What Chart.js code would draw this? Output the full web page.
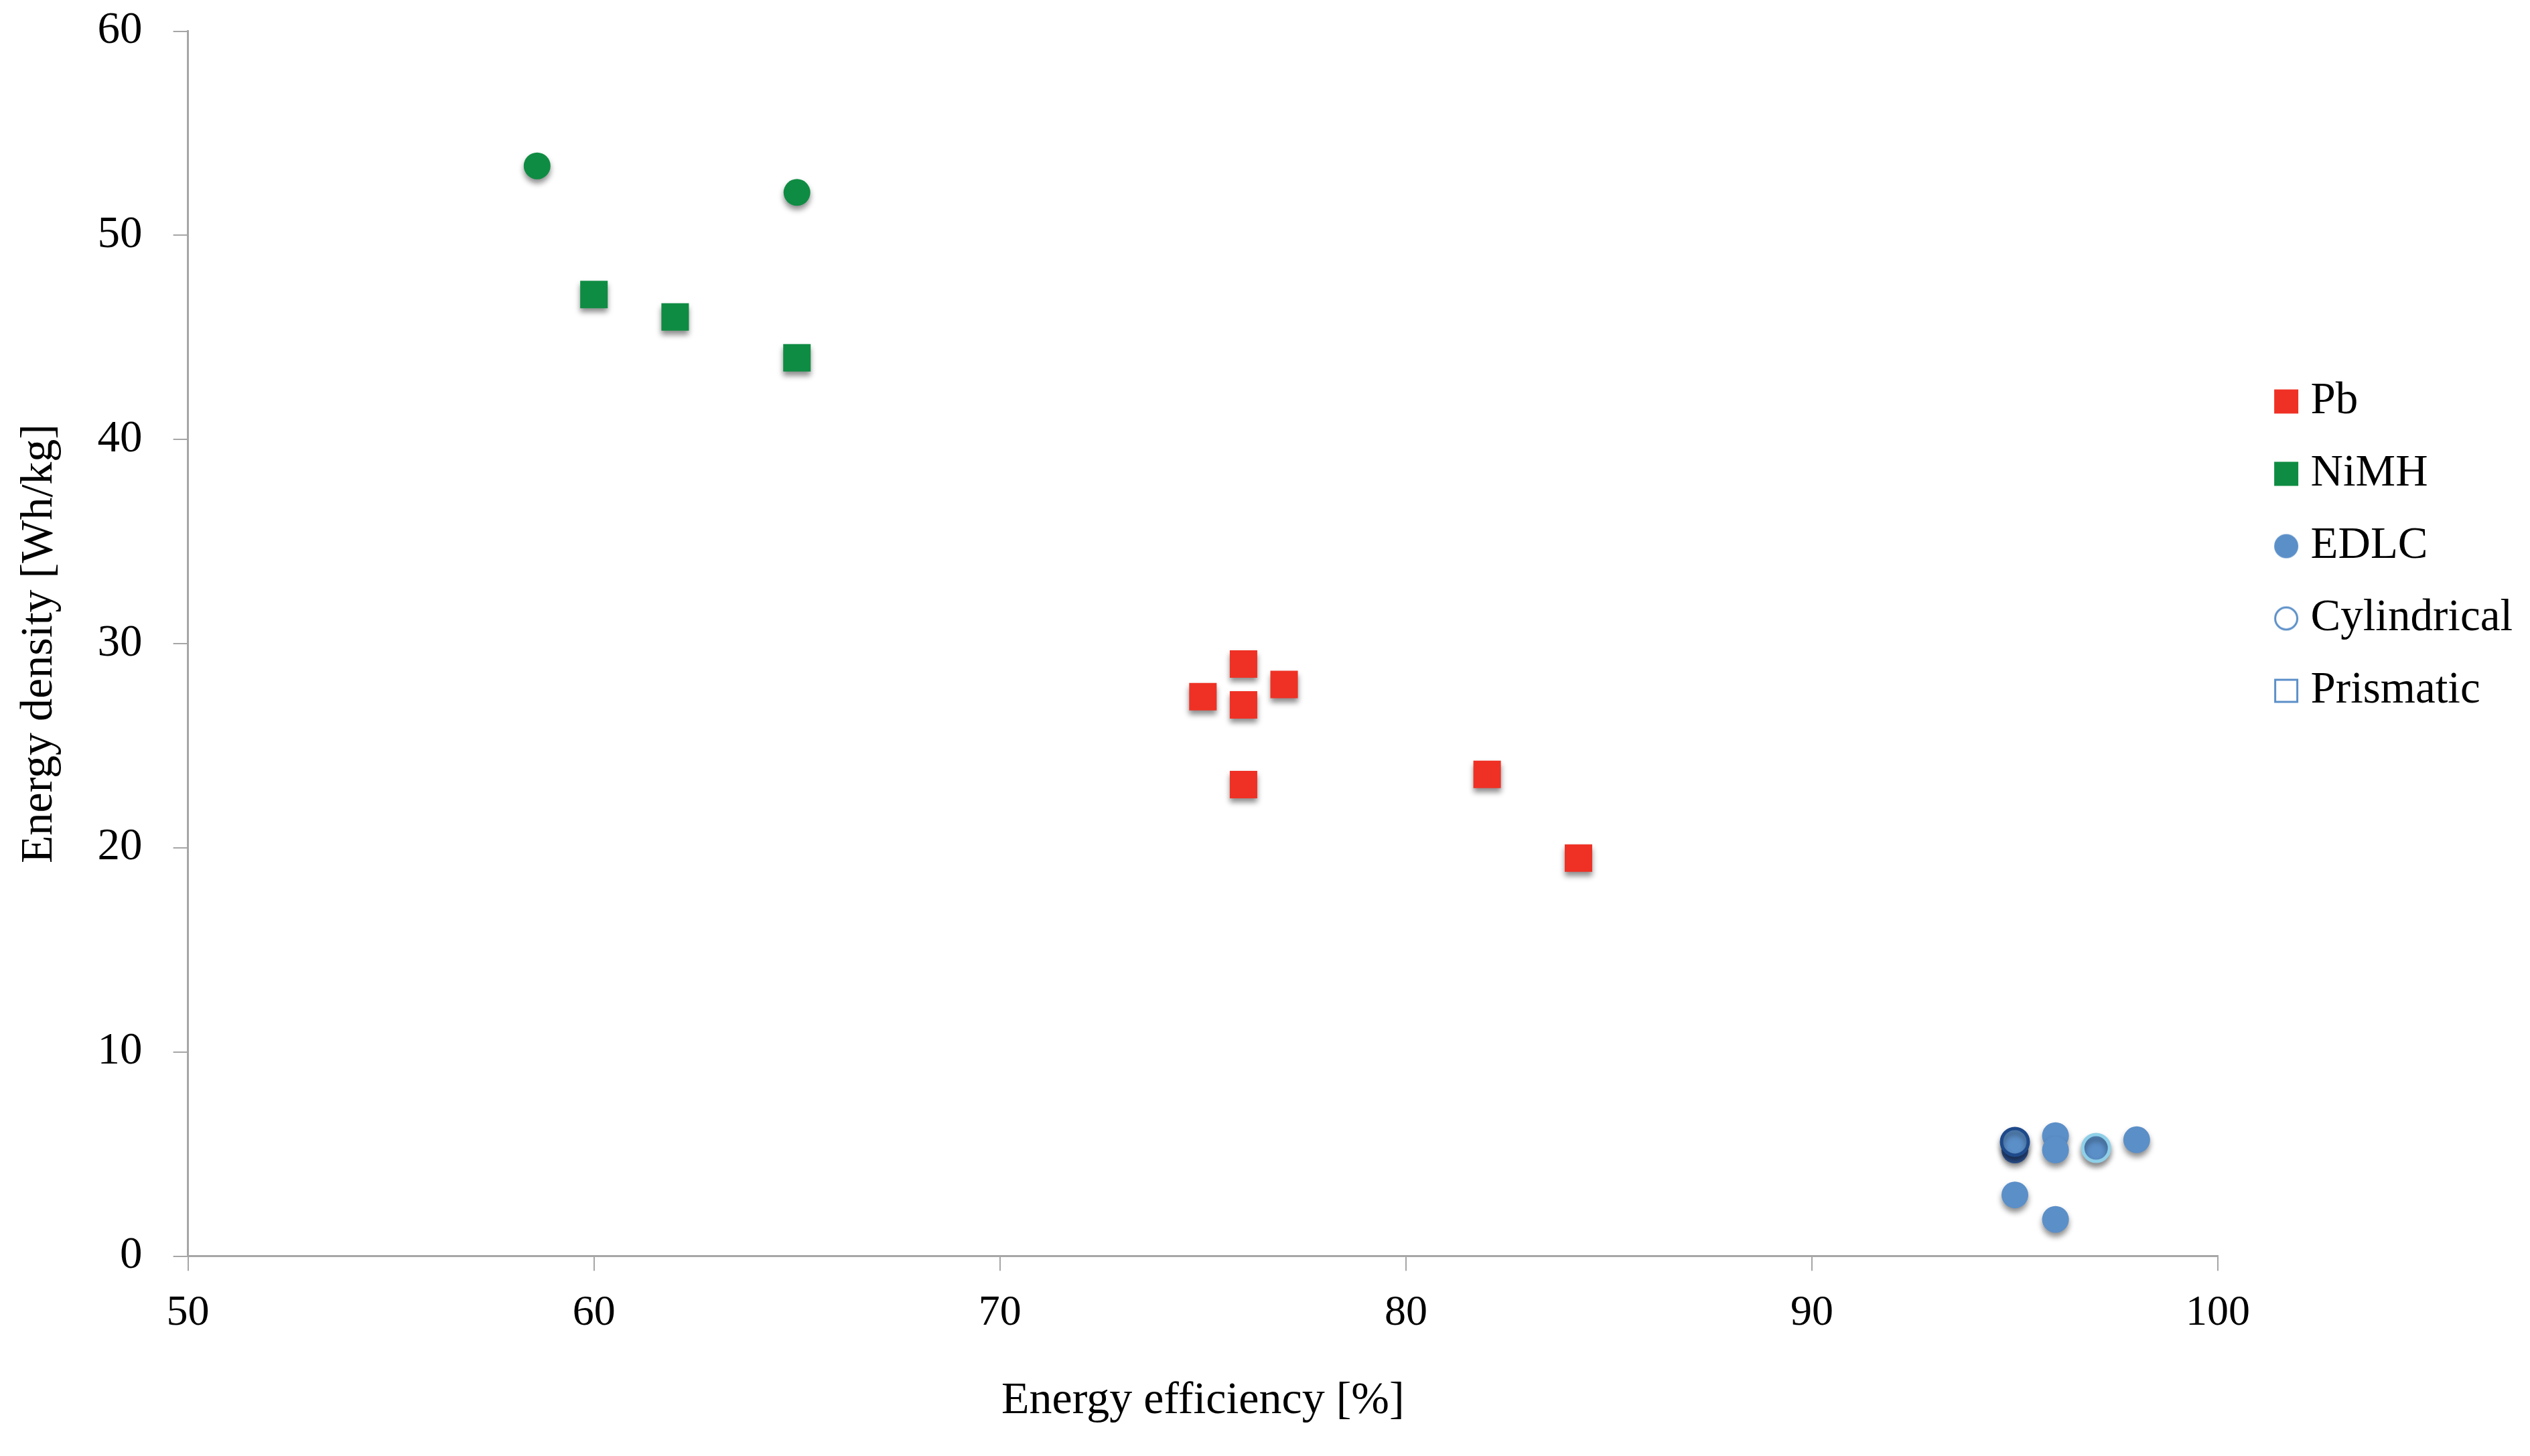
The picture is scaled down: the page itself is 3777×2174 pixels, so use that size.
<!DOCTYPE html>
<html>
<head>
<meta charset="utf-8">
<script src="https://cdn.jsdelivr.net/npm/chart.js@4.4.1/dist/chart.umd.min.js"></script>
<style>
  html, body { margin: 0; padding: 0; background: #fff; }
  #wrap { width: 3777px; height: 2174px; }
</style>
</head>
<body>
<div id="wrap"><canvas id="scatterChart"></canvas></div>
<script>
// energy efficiency [%] / energy density [Wh/kg]
const pbEff = [75, 76, 76, 77, 76, 82, 84.25];
const pbDens = [27.4, 29, 27, 28, 23.1, 23.6, 19.5];

const nimhEff = [60, 62, 65];
const nimhDens = [47.1, 46, 44];

const nimhCylEff = [58.6, 65];
const nimhCylDens = [53.4, 52.1];

const edlcEff = [95, 95, 96, 96, 97, 98, 95, 96];
const edlcDens = [5.2, 5.6, 5.9, 5.2, 5.3, 5.7, 3.0, 1.8];

const xTicks = [50, 60, 70, 80, 90, 100];
const yTicks = [0, 10, 20, 30, 40, 50, 60];

const legendNames = ["Pb", "NiMH", "EDLC", "Cylindrical", "Prismatic"];

const RED = "#EE3124";
const GREEN = "#0F8C43";
const BLUE = "#5B8FC8";
const AXIS = "#A6A6A6";
const FONT = "'Liberation Serif', 'Times New Roman', serif";

const pts = (xs, ys) => xs.map((x, i) => ({ x: x, y: ys[i] }));

// small canvases for the legend markers (marker sits right of centre)
function marker(shape, fill, stroke) {
  const c = document.createElement("canvas");
  c.width = 98;
  c.height = 40;
  const g = c.getContext("2d");
  const cx = 78, cy = 20;
  g.lineWidth = 3;
  if (shape === "rect") {
    if (fill) { g.fillStyle = fill; g.fillRect(cx - 18, cy - 18, 36, 36); }
    if (stroke) { g.strokeStyle = stroke; g.strokeRect(cx - 16.5, cy - 16.5, 33, 33); }
  } else {
    g.beginPath();
    g.arc(cx, cy, fill ? 18 : 16.5, 0, Math.PI * 2);
    if (fill) { g.fillStyle = fill; g.fill(); }
    if (stroke) { g.strokeStyle = stroke; g.stroke(); }
  }
  return c;
}

const legendMarks = [
  marker("rect", RED),
  marker("rect", GREEN),
  marker("circle", BLUE),
  marker("circle", null, BLUE),
  marker("rect", null, BLUE),
];

const shadow = {
  id: "shadow",
  beforeDatasetsDraw(chart) {
    const ctx = chart.ctx;
    ctx.save();
    ctx.shadowColor = "rgba(0,0,0,0.45)";
    ctx.shadowBlur = 8;
    ctx.shadowOffsetY = 6;
  },
  afterDatasetsDraw(chart) {
    chart.ctx.restore();
  },
};

// legend block sits a bit above the middle
const legendShift = {
  id: "legendShift",
  afterLayout(chart) {
    const lg = chart.legend;
    const h = lg.bottom - lg.top;
    lg.top = 525;
    lg.bottom = lg.top + h;
  },
};

const ctx = document.getElementById("scatterChart");

const scatterChart = new Chart(ctx, {
  type: "scatter",
  data: {
    datasets: [
      {
        label: "Pb",
        data: pts(pbEff, pbDens),
        pointStyle: "rect",
        pointRadius: 29,
        pointBorderWidth: 0,
        pointBackgroundColor: RED,
      },
      {
        label: "NiMH",
        data: pts(nimhEff, nimhDens),
        pointStyle: "rect",
        pointRadius: 29,
        pointBorderWidth: 0,
        pointBackgroundColor: GREEN,
      },
      {
        label: "NiMH cylindrical",
        data: pts(nimhCylEff, nimhCylDens),
        pointStyle: "circle",
        pointRadius: 20,
        pointBorderWidth: 0,
        pointBackgroundColor: GREEN,
      },
      {
        label: "EDLC",
        data: pts(edlcEff, edlcDens),
        pointStyle: "circle",
        pointRadius: 20,
        pointBackgroundColor: ["#2E5597", BLUE, BLUE, BLUE, BLUE, BLUE, BLUE, BLUE],
        pointBorderColor: ["#2E5597", "#1F4A8A", BLUE, BLUE, "#8FD0E8", BLUE, BLUE, BLUE],
        pointBorderWidth: [0, 5, 0, 0, 5, 0, 0, 0],
      },
    ],
  },
  options: {
    responsive: true,
    maintainAspectRatio: false,
    animation: false,
    layout: {
      padding: { left: 14, top: 46, right: 16, bottom: 41 },
    },
    plugins: {
      tooltip: { enabled: false },
      legend: {
        display: true,
        position: "right",
        align: "start",
        labels: {
          usePointStyle: true,
          boxWidth: 64,
          boxHeight: 64,
          padding: 41,
          color: "#000",
          font: { family: FONT, size: 67 },
          generateLabels: () =>
            legendNames.map((name, i) => ({
              text: name,
              pointStyle: legendMarks[i],
              fillStyle: "rgba(0,0,0,0)",
              strokeStyle: "rgba(0,0,0,0)",
              lineWidth: 0,
              fontColor: "#000",
              hidden: false,
            })),
        },
      },
    },
    scales: {
      x: {
        type: "linear",
        position: "bottom",
        min: xTicks[0],
        max: xTicks[xTicks.length - 1],
        afterBuildTicks: (s) => {
          s.ticks = xTicks.map((v) => ({ value: v }));
        },
        grid: {
          display: true,
          drawOnChartArea: false,
          drawTicks: true,
          tickLength: 22,
          color: AXIS,
          lineWidth: 2,
        },
        border: { display: true, color: AXIS, width: 3 },
        ticks: {
          color: "#000",
          padding: 25,
          autoSkip: false,
          font: { family: FONT, size: 64 },
        },
        title: {
          display: true,
          text: "Energy efficiency [%]",
          color: "#000",
          font: { family: FONT, size: 68 },
          padding: { top: 27, bottom: 0 },
        },
      },
      y: {
        type: "linear",
        min: yTicks[0],
        max: yTicks[yTicks.length - 1],
        afterBuildTicks: (s) => {
          s.ticks = yTicks.map((v) => ({ value: v }));
        },
        grid: {
          display: true,
          drawOnChartArea: false,
          drawTicks: true,
          tickLength: 22,
          color: AXIS,
          lineWidth: 2,
        },
        border: { display: true, color: AXIS, width: 3 },
        ticks: {
          color: "#000",
          padding: 46,
          autoSkip: false,
          font: { family: FONT, size: 67, lineHeight: "1px" },
        },
        title: {
          display: true,
          text: "Energy density [Wh/kg]",
          color: "#000",
          font: { family: FONT, size: 68 },
          padding: { top: 4, bottom: 0 },
        },
      },
    },
  },
  plugins: [shadow, legendShift],
});
</script>
</body>
</html>
